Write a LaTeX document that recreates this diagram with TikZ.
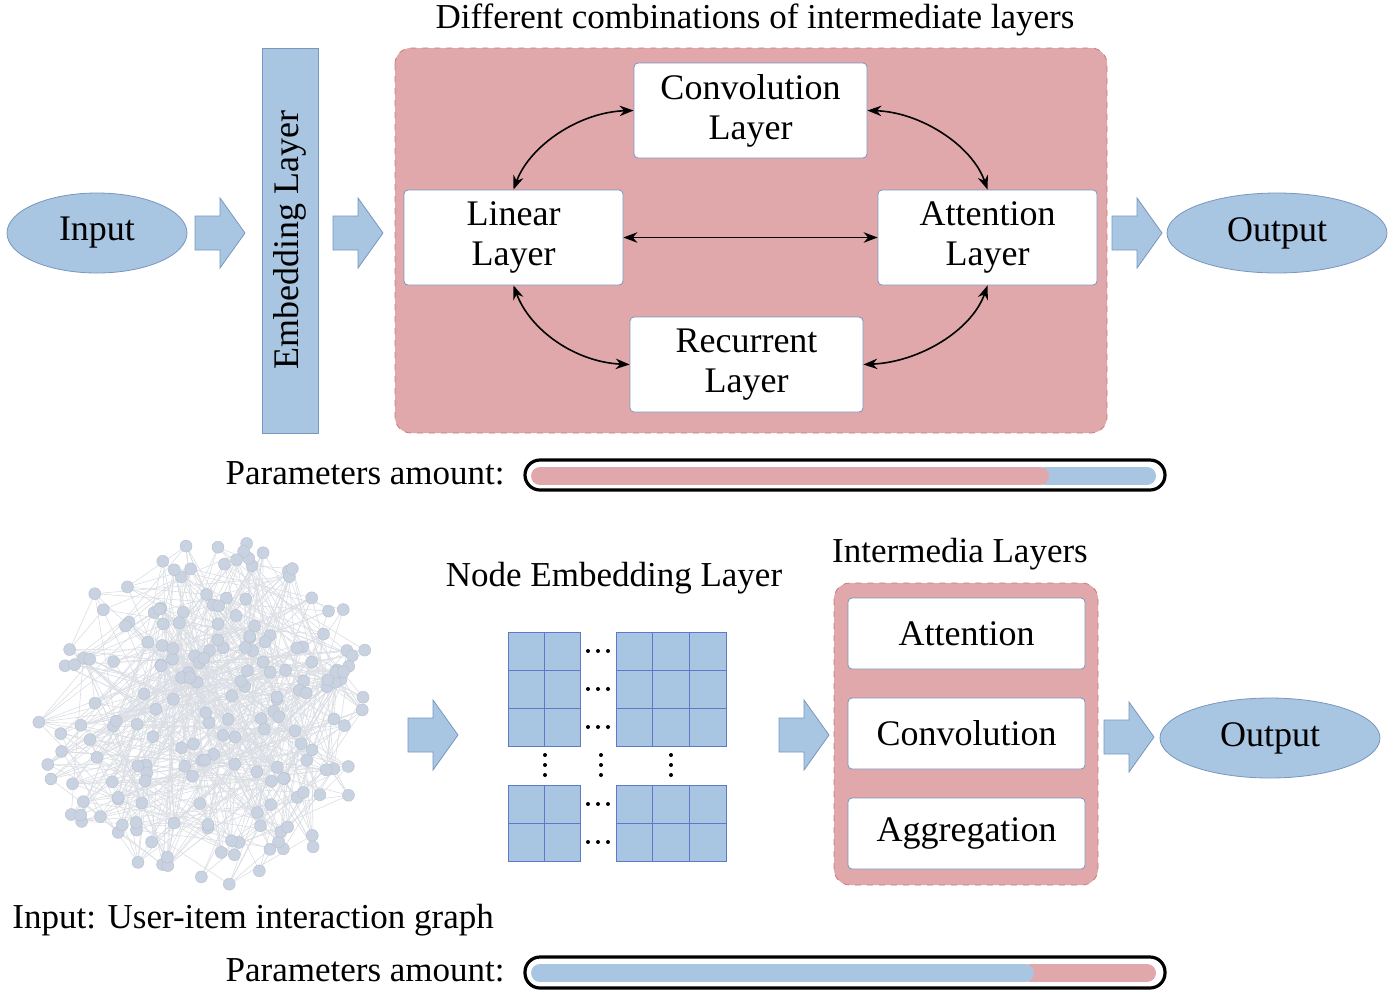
\documentclass[tikz,border=0pt]{standalone}
\usepackage{fontspec}
\setmainfont{Liberation Serif}
\usetikzlibrary{arrows.meta,shapes.geometric}
\definecolor{eblue}{RGB}{168,198,226}
\definecolor{eblueD}{RGB}{120,150,190}
\definecolor{epink}{RGB}{224,168,170}
\definecolor{epinkD}{RGB}{200,120,125}
\definecolor{gnode}{RGB}{200,210,224}
\definecolor{gedge}{RGB}{218,221,227}
\tikzset{
  lay/.style={draw=eblueD, fill=white, rounded corners=2pt, align=center, font=\fontsize{18}{20}\selectfont, inner sep=0pt},
  ell/.style={ellipse, draw=eblueD, fill=eblue, font=\fontsize{18}{20}\selectfont, inner sep=0pt},
  txt/.style={font=\fontsize{17.5}{19}\selectfont, inner sep=0pt},
  fat/.style={draw=eblueD, fill=eblue, line width=0.4pt},
  cell/.style={draw=eblueD!80!blue, fill=eblue, line width=0.5pt},
  dbl/.style={{Stealth[length=7pt]}-{Stealth[length=7pt]}, line width=0.8pt},
  pinkbox/.style={draw=epinkD, fill=epink, dashed, rounded corners=8pt},
  dotmark/.style={circle, fill=black, inner sep=0pt, minimum size=2pt},
}
\newcommand{\fatarr}[2]{\path[fat] (#1,#2-17) -- (#1+25,#2-17) -- (#1+25,#2-35) -- (#1+50,#2) -- (#1+25,#2+35) -- (#1+25,#2+17) -- (#1,#2+17) -- cycle;}
\begin{document}
\begin{tikzpicture}[x=0.5pt,y=-0.5pt]
\useasboundingbox (0,0) rectangle (1392,1002);
% top row
\node[ell, minimum width=90pt, minimum height=40pt] (in) at (97,233) {Input};
\fatarr{195}{233}
\node[draw=eblueD, fill=eblue, minimum width=28pt, minimum height=192.5pt, inner sep=0pt] (emb) at (290,240.5) {};
\node[txt, rotate=90, font=\fontsize{18}{20}\selectfont] (embt) at (290,240) {Embedding Layer};
\fatarr{333}{233}
\path[pinkbox] (395,48) rectangle (1107,433);
\node[txt] (title) at (755,20) {Different combinations of intermediate layers};
\node[lay, minimum width=116.5pt, minimum height=47.5pt] (conv) at (750.5,110.5) {Convolution\\Layer};
\node[lay, minimum width=109.5pt, minimum height=47.5pt] (lin) at (513.5,237.5) {Linear\\Layer};
\node[lay, minimum width=109.5pt, minimum height=47.5pt] (att) at (987.5,237.5) {Attention\\Layer};
\node[lay, minimum width=116.5pt, minimum height=47.5pt] (rec) at (746.5,364.5) {Recurrent\\Layer};
\draw[dbl] (conv.west) .. controls (580,112) and (530,145) .. (lin.north);
\draw[dbl] (conv.east) .. controls (920,112) and (972,145) .. (att.north);
\draw[dbl] (lin.south) .. controls (530,330) and (575,362) .. (rec.west);
\draw[dbl] (att.south) .. controls (972,330) and (920,362) .. (rec.east);
\draw[dbl] (lin.east) -- (att.west);
\fatarr{1112}{233}
\node[ell, minimum width=110pt, minimum height=40pt] (out1) at (1277,233) {Output};
% bar 1
\node[txt, anchor=east] (pa1) at (505,473) {Parameters amount:};
\draw[line width=1.6pt, rounded corners=7.5pt] (525,460) rectangle (1165,490);
\draw[line width=9pt, line cap=round, eblue] (1045,476) -- (1147,476);
\draw[line width=9pt, line cap=round, epink] (540,476) -- (1040,476);
% graph
\pgfmathsetseed{7}
\foreach \i in {1,...,190}{
  \pgfmathsetmacro{\rr}{175*sqrt(rnd)}
  \pgfmathsetmacro{\aa}{360*rnd}
  \coordinate (g\i) at ({205+\rr*cos(\aa)},{712+\rr*sin(\aa)});
}
\foreach \i in {1,...,190}{
  \foreach \k in {1,2,3}{
    \pgfmathtruncatemacro{\j}{random(1,190)}
    \draw[gedge, line width=0.3pt] (g\i) -- (g\j);
  }
}
\foreach \i in {1,...,190}{
  \node[circle, fill=gnode, draw=gnode!80!gray, line width=0.2pt, minimum size=6pt, inner sep=0pt] at (g\i) {};
}
\node[txt, anchor=west] (gl) at (12,920) {Input: User-item interaction graph};
\fatarr{408}{735}
% node embedding
\node[txt] (netitle) at (614,578) {Node Embedding Layer};
\foreach \y/\h in {632/38,670/38,708/38,785/38,823/38}{
  \foreach \x/\w in {508/36,544/36,616/36,652/37,689/37}{
    \path[cell] (\x,\y) rectangle (\x+\w,\y+\h);
  }
  \foreach \dx in {588,598,608}{
    \node[dotmark] at (\dx,\y+19) {};
  }
}
\foreach \x in {545,601,671}{
  \foreach \dy in {755,765,775}{
    \node[dotmark] at (\x,\dy) {};
  }
}
\fatarr{779}{735}
% intermedia
\node[txt] (imt) at (960,554) {Intermedia Layers};
\path[pinkbox] (834,583) rectangle (1098,885);
\node[lay, minimum width=118.5pt, minimum height=35.5pt] (a2) at (966.5,633.5) {Attention};
\node[lay, minimum width=118.5pt, minimum height=35.5pt] (c2) at (966.5,733.5) {Convolution};
\node[lay, minimum width=118.5pt, minimum height=35.5pt] (g2) at (966.5,833.5) {Aggregation};
\fatarr{1104}{737}
\node[ell, minimum width=110pt, minimum height=40pt] (out2) at (1270,738) {Output};
% bar 2
\node[txt, anchor=east] (pa2) at (505,970) {Parameters amount:};
\draw[line width=1.6pt, rounded corners=7.5pt] (525,957) rectangle (1165,988);
\draw[line width=9pt, line cap=round, epink] (1030,973) -- (1147,973);
\draw[line width=9pt, line cap=round, eblue] (540,973) -- (1025,973);
\end{tikzpicture}
\end{document}
